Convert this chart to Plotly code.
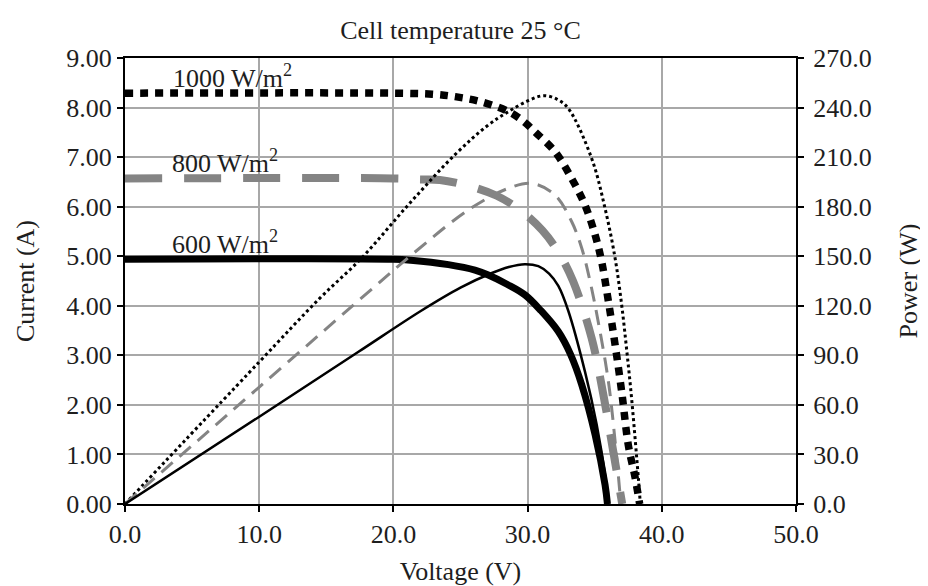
import plotly.graph_objects as go

# ---------------- data ----------------
# I-V curves (left axis, A)
v_i1000 = [0, 20, 22.9, 24.6, 26.5, 28.56, 29.7, 30.55, 32.04, 33.28, 34.28, 35.03, 35.52, 36.02, 36.5, 37.01, 37.51, 38.0, 38.35]
i_1000 = [8.29, 8.29, 8.27, 8.22, 8.12, 7.92, 7.72, 7.51, 7.11, 6.57, 6.03, 5.43, 4.89, 4.09, 3.25, 2.27, 1.18, 0.55, 0.0]

v_i800 = [0, 20, 21.9, 23.47, 25.6, 27.7, 29.5, 31.1, 32.3, 33.4, 34.77, 35.65, 36.39, 37.05]
i_800 = [6.57, 6.57, 6.55, 6.54, 6.42, 6.22, 5.92, 5.52, 5.08, 4.49, 3.35, 2.20, 1.05, 0.0]

v_i600 = [0, 20, 21.3, 24.1, 26.08, 27.07, 28.5, 29.8, 31.0, 32.29, 33.2, 34.03, 35.03, 35.77, 35.95]
i_600 = [4.94, 4.94, 4.92, 4.83, 4.72, 4.62, 4.43, 4.22, 3.90, 3.48, 3.02, 2.41, 1.40, 0.39, 0.0]

# P-V curves (right axis, W)
v_p1000 = [0, 9.92, 14.52, 17.62, 21.1, 24.59, 27.0, 28.56, 30.0, 31.2, 32.2, 33.03, 34.77, 35.77, 36.52, 37.01, 37.4, 37.76, 38.26, 38.4]
p_1000 = [0, 85.3, 124.6, 148.8, 181.0, 211.5, 229.0, 237.5, 244.0, 247.2, 245.0, 239.5, 209.3, 179.0, 148.8, 120.5, 92.0, 63.0, 15.0, 0]

v_p800 = [0, 9.92, 18.62, 21.35, 25.58, 28.56, 30.3, 32.04, 33.28, 34.03, 34.65, 35.27, 36.02, 36.52, 36.95]
p_800 = [0, 70.2, 131.7, 150.8, 178.0, 191.1, 194.1, 187.1, 171.0, 155.0, 135.0, 110.0, 74.2, 38.0, 0]

v_p600 = [0, 9.92, 17.37, 22.07, 25.0, 27.29, 28.6, 29.8, 30.8, 31.6, 32.29, 33.03, 34.28, 35.15, 35.77, 36.02]
p_600 = [0, 52.4, 92.0, 117.0, 131.0, 139.7, 143.5, 145.2, 144.0, 139.5, 132.0, 117.0, 80.0, 48.0, 17.7, 0]

x_ticks = [0, 10, 20, 30, 40, 50]
y_ticks = [0, 1, 2, 3, 4, 5, 6, 7, 8, 9]
y2_ticks = [0, 30, 60, 90, 120, 150, 180, 210, 240, 270]

irr_labels = ["1000 W/m<sup>2</sup>", "800 W/m<sup>2</sup>", "600 W/m<sup>2</sup>"]
label_pos_v = [3.4, 3.35, 3.35]
label_pos_i = [8.63, 6.92, 5.28]

title_text = "Cell temperature 25 °C"

FONT = "Liberation Serif, Times New Roman, serif"
FS = 26
GRAY = "#848484"
TXT = "#1e1e1e"

fig = go.Figure()

SM = 1.0
# power curves (thin)
fig.add_trace(go.Scatter(x=v_p1000, y=p_1000, yaxis="y2", mode="lines",
                         line=dict(color="black", width=3, dash="3px,3px", shape="spline", smoothing=SM)))
fig.add_trace(go.Scatter(x=v_p800, y=p_800, yaxis="y2", mode="lines",
                         line=dict(color=GRAY, width=3, dash="15px,9px", shape="spline", smoothing=SM)))
fig.add_trace(go.Scatter(x=v_p600, y=p_600, yaxis="y2", mode="lines",
                         line=dict(color="black", width=2.5, shape="spline", smoothing=SM)))

# current curves (thick)
fig.add_trace(go.Scatter(x=v_i1000, y=i_1000, mode="lines",
                         line=dict(color="black", width=7.5, dash="8px,7px", shape="spline", smoothing=SM)))
fig.add_trace(go.Scatter(x=v_i800, y=i_800, mode="lines",
                         line=dict(color=GRAY, width=8, dash="37px,22px", shape="spline", smoothing=SM)))
fig.add_trace(go.Scatter(x=v_i600, y=i_600, mode="lines",
                         line=dict(color="black", width=7, shape="spline", smoothing=SM)))

for txt, vx, iy in zip(irr_labels, label_pos_v, label_pos_i):
    fig.add_annotation(x=vx, y=iy, xref="x", yref="y", text=txt, showarrow=False,
                       xanchor="left", yanchor="middle",
                       font=dict(family=FONT, size=FS, color=TXT))

axis_common = dict(
    showline=True, linecolor="black", linewidth=2,
    ticks="outside", ticklen=6, tickwidth=2, tickcolor="black",
    tickfont=dict(family=FONT, size=FS, color=TXT),
    zeroline=False, automargin=False,
)

fig.update_layout(
    width=928, height=586,
    margin=dict(l=117, r=140, t=50, b=90),
    paper_bgcolor="white", plot_bgcolor="white",
    showlegend=False,
    font=dict(family=FONT, size=FS, color=TXT),
    title=dict(text=title_text, x=0.5, xref="paper", xanchor="center",
               y=1 - 22 / 586, yanchor="middle",
               font=dict(family=FONT, size=FS, color=TXT)),
    xaxis=dict(range=[0, 50], tickvals=x_ticks, tickformat=".1f",
               showgrid=True, gridcolor="#a8a8a8", gridwidth=1.5, mirror=True,
               title=dict(text="Voltage (V)", standoff=14,
                          font=dict(family=FONT, size=FS, color=TXT)),
               **axis_common),
    yaxis=dict(range=[0, 9], tickvals=y_ticks, tickformat=".2f",
               showgrid=True, gridcolor="#a8a8a8", gridwidth=1.5,
               title=dict(text="Current (A)", standoff=24,
                          font=dict(family=FONT, size=FS, color=TXT)),
               **axis_common),
    yaxis2=dict(range=[0, 270], tickvals=y2_ticks, tickformat=".1f",
                overlaying="y", side="right", showgrid=False,
                ticklabelstandoff=4,
                title=dict(text="Power (W)", standoff=28,
                           font=dict(family=FONT, size=FS, color=TXT)),
                **axis_common),
)

fig.write_html("out.html")
